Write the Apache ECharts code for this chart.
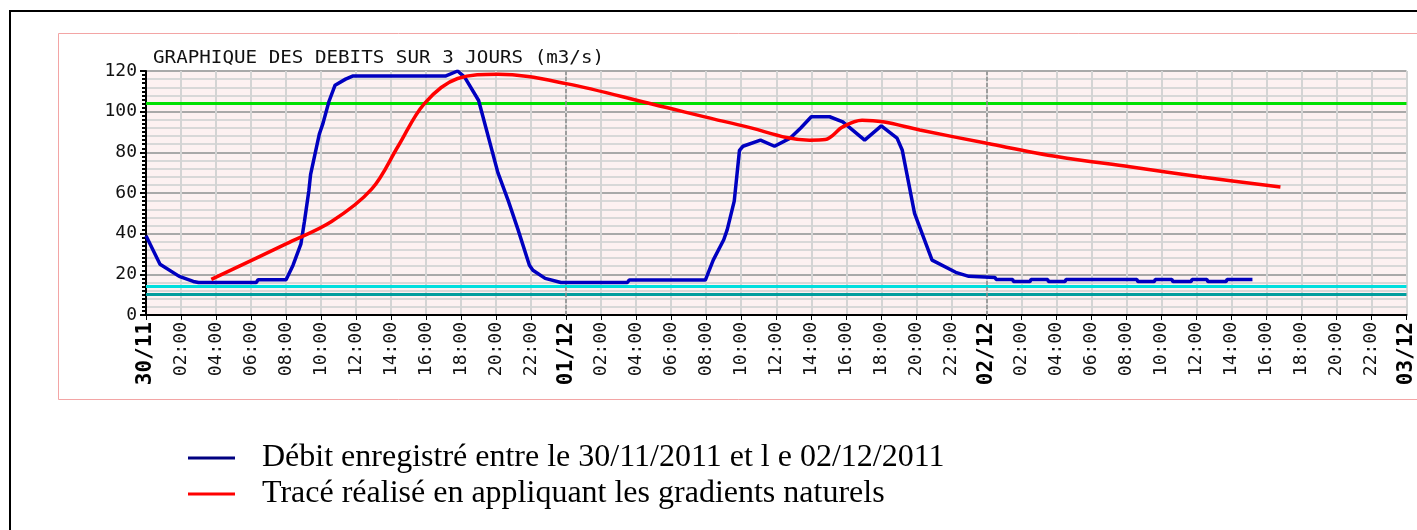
<!DOCTYPE html>
<html><head><meta charset="utf-8">
<script src="https://cdn.jsdelivr.net/npm/echarts@6/dist/echarts.min.js"></script>
<style>html,body{margin:0;padding:0;background:#fff}#c{width:1417px;height:530px}</style>
</head><body><div id="c"></div>
<script>
// ---- data ----
const dayLabels = ['30/11', '01/12', '02/12', '03/12'];
const titleText = 'GRAPHIQUE DES DEBITS SUR 3 JOURS (m3/s)';
const seriesNames = ['Débit enregistré entre le 30/11/2011 et l e 02/12/2011', 'Tracé réalisé en appliquant les gradients naturels'];
// hours since 30/11 00:00
const blueHours = [0, 0.8, 1.9, 2.7, 3.0, 6.3, 6.4, 8.0, 8.4, 8.85, 9.05, 9.3, 9.4, 9.9, 10.1, 10.45, 10.8, 11.4, 11.8, 17.1, 17.8, 18.2, 19.0, 20.1, 20.7, 21.25, 21.9, 22.1, 22.8, 23.7, 27.5, 27.6, 31.95, 32.4, 33.0, 33.2, 33.6, 33.9, 34.1, 35.1, 35.9, 36.8, 37.4, 38.0, 39.05, 39.8, 41.05, 42.0, 42.9, 43.2, 43.9, 44.9, 46.25, 47.0, 48.5, 48.55, 49.5, 49.55, 50.5, 50.55, 51.5, 51.55, 52.5, 52.55, 56.6, 56.65, 57.6, 57.65, 58.6, 58.65, 59.7, 59.75, 60.6, 60.65, 61.7, 61.75, 63.2];
const blueValues = [39, 25, 19, 16.5, 16, 16, 17.3, 17.3, 24.5, 35, 46, 61, 69, 89, 94, 105, 113, 116, 117.5, 117.5, 120, 117, 105.5, 70, 56, 42, 24.5, 22, 18, 16, 16, 17.2, 17.2, 27, 37, 42, 56, 81, 83, 86, 83, 87, 92, 97.5, 97.5, 95, 86, 93, 87, 81, 50, 27, 21, 19, 18.5, 17.5, 17.5, 16.5, 16.5, 17.5, 17.5, 16.5, 16.5, 17.5, 17.5, 16.5, 16.5, 17.5, 17.5, 16.5, 16.5, 17.5, 17.5, 16.5, 16.5, 17.5, 17.5];
const redHours = [3.73, 8.0, 10.6, 12.9, 14.4, 15.9, 17.8, 20.1, 24, 29, 34.1, 37.9, 38.8, 39.8, 40.9, 42.1, 44.2, 48.1, 52.1, 56.2, 60.3, 64.8];
const redValues = [17.5, 35, 46, 62, 83, 104, 116.3, 118.4, 113.8, 103.5, 93, 86, 86.3, 92.5, 95.8, 95, 91, 84.3, 77.8, 72.9, 67.9, 63];
const thresholds = [104, 14, 10];
const dayLines = [24, 48];

// ---- chart ----
const chart = echarts.init(document.getElementById('c'), null, {renderer: 'canvas'});
const mono = 'DejaVu Sans Mono';
const pair = (xs, ys) => xs.map((x, i) => [x, ys[i]]);
const thrColors = ['#00e000', '#00dede', '#009e9e'];

chart.setOption({
  animation: false,
  backgroundColor: '#fff',
  graphic: [
    {type: 'rect', z: -10, shape: {x: 10, y: 11, width: 1500, height: 600}, style: {fill: null, stroke: '#000', lineWidth: 2}},
    {type: 'rect', z: -10, shape: {x: 58.5, y: 33.5, width: 1450, height: 366}, style: {fill: null, stroke: '#f3a5a5', lineWidth: 1}},
    {type: 'text', x: 153, y: 50, scaleX: 1.13, style: {text: titleText, font: '17px "DejaVu Sans Mono"', fill: '#111'}}
  ],
  grid: {left: 146, top: 71, right: 2, bottom: 215, show: true, backgroundColor: '#fdf1f1', borderWidth: 0},
  legend: {
    orient: 'vertical', left: 188, top: 442, padding: 0, itemWidth: 47, itemHeight: 3, itemGap: 4, icon: 'rect',
    textStyle: {fontFamily: 'Liberation Serif', fontSize: 32, color: '#000', lineHeight: 32, padding: [0, 0, 0, 22]},
    data: [{name: seriesNames[0], itemStyle: {color: '#000080'}}, {name: seriesNames[1], itemStyle: {color: '#ff0000'}}]
  },
  xAxis: {
    type: 'value', min: 0, max: 72, interval: 2,
    axisLine: {show: true, onZero: false, lineStyle: {color: '#000', width: 2}},
    axisTick: {show: true, length: 5, lineStyle: {color: '#000', width: 1}},
    splitLine: {show: true, lineStyle: {color: '#d4d4d4', width: 2}},
    axisLabel: {
      rotate: 90, margin: 7, fontFamily: mono, fontSize: 18, color: '#111', showMaxLabel: true,
      formatter: v => (v % 24 === 0) ? '{b|' + dayLabels[v / 24] + '}' : String(v % 24).padStart(2, '0') + ':00',
      rich: {b: {fontFamily: mono, fontWeight: 'bold', fontSize: 21, color: '#000'}}
    }
  },
  yAxis: [{
    type: 'value', min: 0, max: 120, interval: 20,
    axisLine: {show: true, lineStyle: {color: '#000', width: 2}},
    axisTick: {show: true, length: 6, lineStyle: {color: '#000', width: 2}},
    axisLabel: {fontFamily: mono, fontSize: 18, color: '#111', margin: 9},
    splitLine: {show: true, lineStyle: {color: '#a9a9a9', width: 2}},
    minorTick: {show: false, splitNumber: 5},
    minorSplitLine: {show: true, lineStyle: {color: '#d8d8d8', width: 2}}
  }, {
    type: 'value', min: 0, max: 120, interval: 20, position: 'left', offset: 0,
    axisLine: {show: false}, axisLabel: {show: false}, splitLine: {show: false},
    axisTick: {show: false},
    minorTick: {show: true, splitNumber: 10, length: 4, lineStyle: {color: '#000', width: 2}}
  }],
  series: [
    {
      name: seriesNames[0], type: 'line', data: pair(blueHours, blueValues), showSymbol: false, symbol: 'none',
      lineStyle: {color: '#0000c0', width: 3.5}, itemStyle: {color: '#0000c0'}, z: 5,
      markLine: {
        silent: true, symbol: 'none', label: {show: false}, animation: false,
        data: thresholds.map((t, i) => ({yAxis: t, lineStyle: {color: thrColors[i], width: 3, type: 'solid'}}))
          .concat(dayLines.map(d => ({xAxis: d, lineStyle: {color: '#8a8a8a', width: 1.5, type: [4, 2]}})))
      }
    },
    {
      name: seriesNames[1], type: 'line', data: pair(redHours, redValues), showSymbol: false, symbol: 'none',
      smooth: 0.35,
      lineStyle: {color: '#ff0000', width: 3.5}, itemStyle: {color: '#ff0000'}, z: 6
    }
  ]
});
</script></body></html>
